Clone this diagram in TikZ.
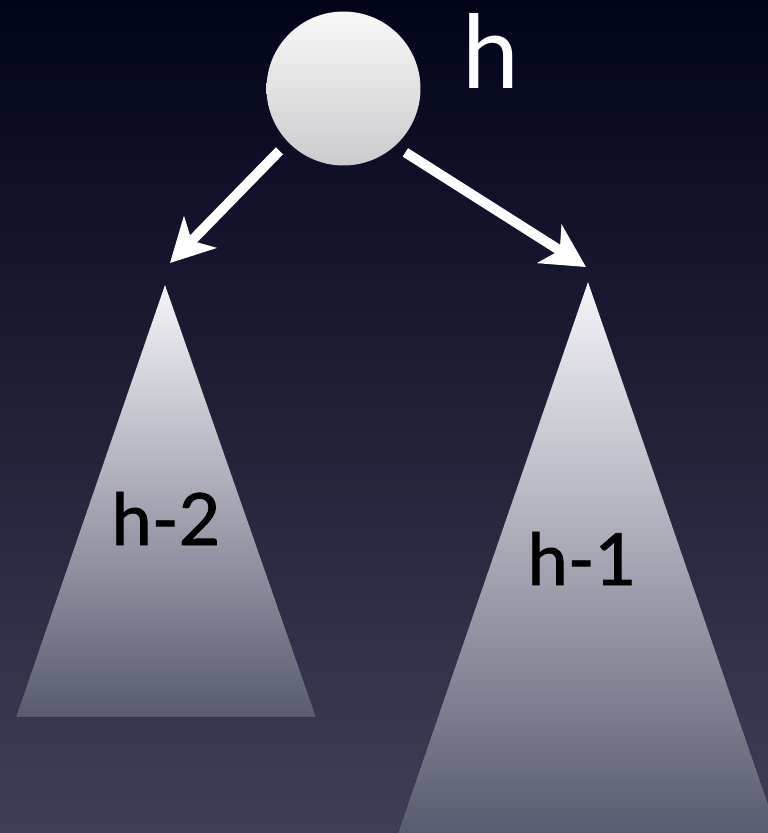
\documentclass[tikz,border=0pt]{standalone}
\usepackage{fontspec}
\setmainfont{Lato}
\newfontfamily\lblfont[FakeBold=1.2]{Lato}
\usetikzlibrary{arrows.meta,positioning}
\definecolor{NightTop}{HTML}{02041A}
\definecolor{NightBot}{HTML}{3E3E58}
\definecolor{KeyTop}{HTML}{F8F8F8}
\definecolor{KeyBot}{HTML}{CBCBCE}
\definecolor{TreeTop}{HTML}{F4F4F8}
\definecolor{TreeBot}{HTML}{595B70}
\tikzset{
  keynode/.style={circle,minimum size=3.08cm,inner sep=0pt,top color=KeyTop,bottom color=KeyBot},
  subtree/.style={top color=TreeTop,bottom color=TreeBot},
  keylbl/.style={font=\fontsize{58}{58}\selectfont,text=white,anchor=base,inner sep=0pt},
  heightlbl/.style={font=\lblfont\fontsize{41}{41}\selectfont,text=black,anchor=base,inner sep=0pt},
  arrow/.style={-{Stealth[length=8.6mm,width=9mm,inset=2.4mm]},line width=5.7pt,draw=white,shorten <=2.4mm}
}
\begin{document}
\begin{tikzpicture}[x=0.02cm,y=-0.02cm]
\useasboundingbox (0,0) rectangle (768,833);
\clip (0,0) rectangle (768,833);
\fill[top color=NightTop,bottom color=NightBot] (0,0) rectangle (768,833);
% subtrees
\coordinate (ltop) at (165,285);
\coordinate (rtop) at (588,282);
\fill[subtree] (ltop) -- (16,717) -- (316,717) -- cycle;
\fill[subtree] (rtop) -- (398,833) -- (778,833) -- cycle;
\node[heightlbl] (lh) at (166,545) {h-2};
\node[heightlbl] (rh) at (582,585) {h-1};
% root
\node[keynode] (root) at (343.5,88.5) {};
\node[keylbl] (rootlbl) at (491,88) {h};
\coordinate (ltip) at (170,263);
\coordinate (rtip) at (586,267);
\draw[arrow] (root.224) -- (ltip);
\draw[arrow] (root.312) -- (rtip);
\end{tikzpicture}
\end{document}
